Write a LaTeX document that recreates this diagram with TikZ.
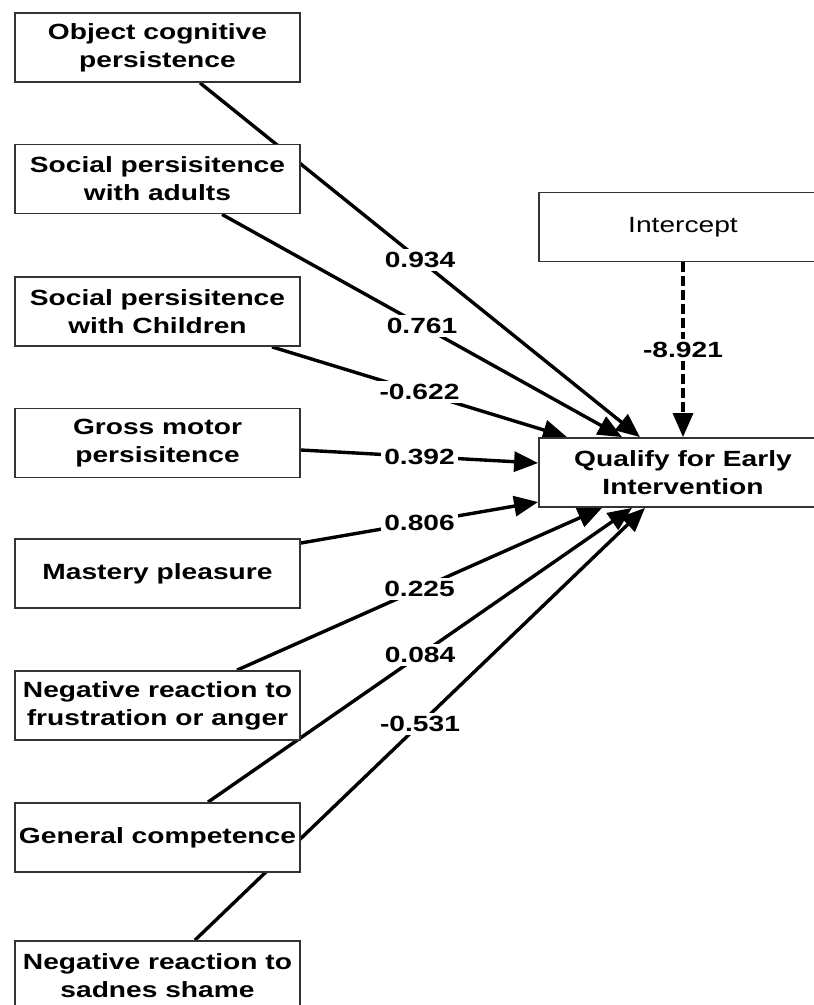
\documentclass[tikz,border=0pt]{standalone}
\usepackage{fontspec}
\setmainfont{Liberation Sans}[FakeStretch=1.28]
\usetikzlibrary{arrows.meta,backgrounds}
\begin{document}
\begin{tikzpicture}[x=1pt,y=-1pt,
  box/.style={draw=black!80,line width=1.8pt,fill=white,minimum width=285pt,minimum height=69pt,inner sep=0pt,align=center,font=\fontsize{22}{28}\selectfont\bfseries},
  rbox/.style={box,minimum width=288pt},
  conn/.style={line width=3.4pt,-{Triangle[length=24pt,width=20pt]}},
  lab/.style={fill=white,inner sep=3pt,font=\fontsize{22}{26}\selectfont\bfseries}]
\useasboundingbox (0,0) rectangle (814,1005);
\node[box] (b1) at (157.5,47.5) {Object cognitive\\persistence};
\node[box] (b2) at (157.5,179) {Social persisitence\\with adults};
\node[box] (b3) at (157.5,311.5) {Social persisitence\\with Children};
\node[box] (b4) at (157.5,443) {Gross motor\\persisitence};
\node[box] (b5) at (157.5,573.5) {Mastery pleasure};
\node[box] (b6) at (157.5,705.5) {Negative reaction to\\frustration or anger};
\node[box] (b7) at (157.5,837.5) {General competence};
\node[box] (b8) at (157.5,975.5) {Negative reaction to\\sadnes shame};
\node[rbox,font=\fontsize{22}{28}\selectfont] (ic) at (683,227) {Intercept};
\node[rbox] (q) at (683,472.5) {Qualify for Early\\Intervention};
\begin{scope}[on background layer]
\draw[conn] ([xshift=42.5pt]b1.south) -- node[lab]{0.934} ([xshift=-43pt]q.north);
\draw[conn] ([xshift=64.5pt]b2.south) -- node[lab]{0.761} ([xshift=-61pt]q.north);
\draw[conn] ([xshift=114.5pt]b3.south) -- node[lab]{-0.622} ([xshift=-116pt]q.north);
\draw[conn] ([yshift=-7pt]b4.east) -- node[lab]{0.392} ([yshift=9.5pt]q.west);
\draw[conn] ([yshift=30.5pt]b5.east) -- node[lab]{0.806} ([yshift=-29.5pt]q.west);
\draw[conn] ([xshift=79.5pt]b6.north) -- node[lab]{0.225} ([xshift=-81pt]q.south);
\draw[conn] ([xshift=50.5pt]b7.north) -- node[lab]{0.084} ([xshift=-51pt]q.south);
\draw[conn] ([xshift=37.5pt]b8.north) -- node[lab]{-0.531} ([xshift=-38pt]q.south);
\draw[conn,dash pattern=on 10pt off 4pt] (ic.south) -- node[lab]{-8.921} (q.north);
\end{scope}
\end{tikzpicture}
\end{document}
